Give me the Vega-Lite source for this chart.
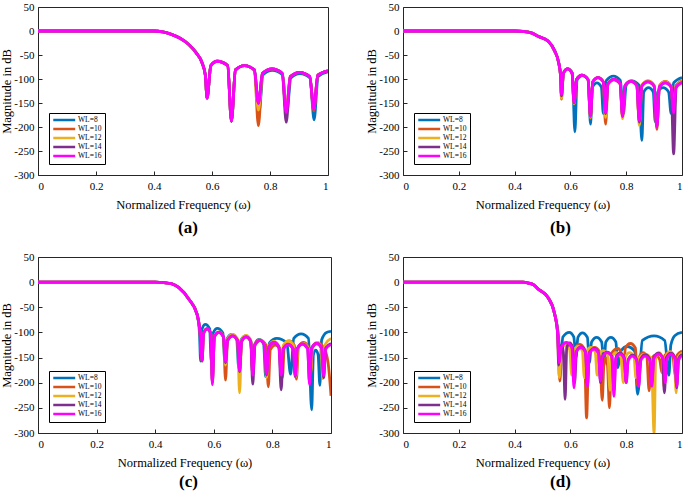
{
"$schema": "https://vega.github.io/schema/vega-lite/v6.json",
"padding": {"left": 0, "top": 0, "right": 0, "bottom": 0},
"columns": 2,
"spacing": {"row": 82, "column": 72},
"bounds": "flush",
"resolve": {"scale": {"color": "independent"}, "legend": {"color": "independent"}},
"datasets": {
"A": [
{"s":8,"x":0,"y":0},{"s":8,"x":0.1,"y":0},{"s":8,"x":0.2,"y":0},{"s":8,"x":0.3,"y":0},{"s":8,"x":0.4,"y":0},{"s":8,"x":0.43,"y":-2},{"s":8,"x":0.46,"y":-7},{"s":8,"x":0.49,"y":-15},{"s":8,"x":0.52,"y":-28},{"s":8,"x":0.545,"y":-45},{"s":8,"x":0.565,"y":-65},{"s":8,"x":0.577,"y":-92},
{"s":8,"x":0.583,"y":-140},{"s":8,"x":0.596,"y":-72},{"s":8,"x":0.618,"y":-63},{"s":8,"x":0.654,"y":-72},{"s":8,"x":0.667,"y":-188},{"s":8,"x":0.681,"y":-81},{"s":8,"x":0.712,"y":-72},{"s":8,"x":0.746,"y":-81},{"s":8,"x":0.762,"y":-170},{"s":8,"x":0.776,"y":-91},{"s":8,"x":0.808,"y":-82},{"s":8,"x":0.843,"y":-91},{"s":8,"x":0.858,"y":-168},{"s":8,"x":0.872,"y":-98},{"s":8,"x":0.903,"y":-89},{"s":8,"x":0.938,"y":-98},{"s":8,"x":0.952,"y":-185},{"s":8,"x":0.966,"y":-95},{"s":8,"x":1,"y":-85},
{"s":10,"x":0,"y":0},{"s":10,"x":0.1,"y":0},{"s":10,"x":0.2,"y":0},{"s":10,"x":0.3,"y":0},{"s":10,"x":0.4,"y":0},{"s":10,"x":0.43,"y":-2},{"s":10,"x":0.46,"y":-7},{"s":10,"x":0.49,"y":-15},{"s":10,"x":0.52,"y":-28},{"s":10,"x":0.545,"y":-45},{"s":10,"x":0.565,"y":-65},{"s":10,"x":0.577,"y":-92},
{"s":10,"x":0.583,"y":-140},{"s":10,"x":0.596,"y":-72},{"s":10,"x":0.618,"y":-63},{"s":10,"x":0.654,"y":-72},{"s":10,"x":0.667,"y":-188},{"s":10,"x":0.681,"y":-81},{"s":10,"x":0.712,"y":-72},{"s":10,"x":0.746,"y":-81},{"s":10,"x":0.76,"y":-197},{"s":10,"x":0.774,"y":-88},{"s":10,"x":0.807,"y":-79},{"s":10,"x":0.842,"y":-88},{"s":10,"x":0.856,"y":-168},{"s":10,"x":0.87,"y":-95},{"s":10,"x":0.902,"y":-86},{"s":10,"x":0.937,"y":-95},{"s":10,"x":0.951,"y":-166},{"s":10,"x":0.965,"y":-92},{"s":10,"x":1,"y":-83},
{"s":12,"x":0,"y":0},{"s":12,"x":0.1,"y":0},{"s":12,"x":0.2,"y":0},{"s":12,"x":0.3,"y":0},{"s":12,"x":0.4,"y":0},{"s":12,"x":0.43,"y":-2},{"s":12,"x":0.46,"y":-7},{"s":12,"x":0.49,"y":-15},{"s":12,"x":0.52,"y":-28},{"s":12,"x":0.545,"y":-45},{"s":12,"x":0.565,"y":-65},{"s":12,"x":0.577,"y":-92},
{"s":12,"x":0.583,"y":-140},{"s":12,"x":0.596,"y":-72},{"s":12,"x":0.618,"y":-63},{"s":12,"x":0.654,"y":-72},{"s":12,"x":0.667,"y":-188},{"s":12,"x":0.681,"y":-81},{"s":12,"x":0.712,"y":-72},{"s":12,"x":0.746,"y":-81},{"s":12,"x":0.76,"y":-165},{"s":12,"x":0.774,"y":-88},{"s":12,"x":0.807,"y":-79},{"s":12,"x":0.842,"y":-88},{"s":12,"x":0.856,"y":-168},{"s":12,"x":0.87,"y":-95},{"s":12,"x":0.902,"y":-86},{"s":12,"x":0.937,"y":-95},{"s":12,"x":0.951,"y":-160},{"s":12,"x":0.965,"y":-92},{"s":12,"x":1,"y":-83},
{"s":14,"x":0,"y":0},{"s":14,"x":0.1,"y":0},{"s":14,"x":0.2,"y":0},{"s":14,"x":0.3,"y":0},{"s":14,"x":0.4,"y":0},{"s":14,"x":0.43,"y":-2},{"s":14,"x":0.46,"y":-7},{"s":14,"x":0.49,"y":-15},{"s":14,"x":0.52,"y":-28},{"s":14,"x":0.545,"y":-45},{"s":14,"x":0.565,"y":-65},{"s":14,"x":0.577,"y":-92},
{"s":14,"x":0.583,"y":-140},{"s":14,"x":0.596,"y":-72},{"s":14,"x":0.618,"y":-63},{"s":14,"x":0.654,"y":-72},{"s":14,"x":0.667,"y":-188},{"s":14,"x":0.681,"y":-81},{"s":14,"x":0.712,"y":-72},{"s":14,"x":0.746,"y":-81},{"s":14,"x":0.76,"y":-150},{"s":14,"x":0.774,"y":-88},{"s":14,"x":0.807,"y":-79},{"s":14,"x":0.842,"y":-88},{"s":14,"x":0.856,"y":-190},{"s":14,"x":0.87,"y":-95},{"s":14,"x":0.902,"y":-86},{"s":14,"x":0.937,"y":-95},{"s":14,"x":0.951,"y":-160},{"s":14,"x":0.965,"y":-92},{"s":14,"x":1,"y":-83},
{"s":16,"x":0,"y":0},{"s":16,"x":0.1,"y":0},{"s":16,"x":0.2,"y":0},{"s":16,"x":0.3,"y":0},{"s":16,"x":0.4,"y":0},{"s":16,"x":0.43,"y":-2},{"s":16,"x":0.46,"y":-7},{"s":16,"x":0.49,"y":-15},{"s":16,"x":0.52,"y":-28},{"s":16,"x":0.545,"y":-45},{"s":16,"x":0.565,"y":-65},{"s":16,"x":0.577,"y":-92},
{"s":16,"x":0.583,"y":-140},{"s":16,"x":0.596,"y":-72},{"s":16,"x":0.618,"y":-63},{"s":16,"x":0.654,"y":-72},{"s":16,"x":0.667,"y":-188},{"s":16,"x":0.681,"y":-81},{"s":16,"x":0.712,"y":-72},{"s":16,"x":0.746,"y":-81},{"s":16,"x":0.76,"y":-151},{"s":16,"x":0.774,"y":-88},{"s":16,"x":0.807,"y":-79},{"s":16,"x":0.842,"y":-88},{"s":16,"x":0.856,"y":-170},{"s":16,"x":0.87,"y":-95},{"s":16,"x":0.902,"y":-86},{"s":16,"x":0.937,"y":-95},{"s":16,"x":0.951,"y":-163},{"s":16,"x":0.965,"y":-92},{"s":16,"x":1,"y":-83}
],
"B": [
{"s":8,"x":0,"y":0},{"s":8,"x":0.1,"y":0},{"s":8,"x":0.2,"y":0},{"s":8,"x":0.3,"y":0},{"s":8,"x":0.4,"y":0},{"s":8,"x":0.43,"y":-1},{"s":8,"x":0.46,"y":-4},{"s":8,"x":0.484,"y":-11},{"s":8,"x":0.52,"y":-21},{"s":8,"x":0.544,"y":-42},{"s":8,"x":0.558,"y":-66},{"s":8,"x":0.565,"y":-94},
{"s":8,"x":0.568,"y":-135},{"s":8,"x":0.575,"y":-88},{"s":8,"x":0.59,"y":-79},{"s":8,"x":0.607,"y":-88},{"s":8,"x":0.616,"y":-210},{"s":8,"x":0.624,"y":-102},{"s":8,"x":0.643,"y":-93},{"s":8,"x":0.664,"y":-102},{"s":8,"x":0.672,"y":-194},{"s":8,"x":0.679,"y":-117},{"s":8,"x":0.695,"y":-108},{"s":8,"x":0.711,"y":-117},{"s":8,"x":0.718,"y":-172},{"s":8,"x":0.729,"y":-103},{"s":8,"x":0.754,"y":-94},{"s":8,"x":0.779,"y":-103},{"s":8,"x":0.79,"y":-172},{"s":8,"x":0.8,"y":-113},{"s":8,"x":0.82,"y":-104},{"s":8,"x":0.846,"y":-113},{"s":8,"x":0.856,"y":-228},{"s":8,"x":0.863,"y":-127},{"s":8,"x":0.88,"y":-118},{"s":8,"x":0.897,"y":-127},{"s":8,"x":0.904,"y":-189},{"s":8,"x":0.913,"y":-127},{"s":8,"x":0.932,"y":-118},{"s":8,"x":0.952,"y":-127},{"s":8,"x":0.961,"y":-172},{"s":8,"x":0.97,"y":-108},{"s":8,"x":1,"y":-97},
{"s":10,"x":0,"y":0},{"s":10,"x":0.1,"y":0},{"s":10,"x":0.2,"y":0},{"s":10,"x":0.3,"y":0},{"s":10,"x":0.4,"y":0},{"s":10,"x":0.43,"y":-1},{"s":10,"x":0.46,"y":-4},{"s":10,"x":0.484,"y":-11},{"s":10,"x":0.52,"y":-21},{"s":10,"x":0.544,"y":-42},{"s":10,"x":0.558,"y":-66},{"s":10,"x":0.565,"y":-94},
{"s":10,"x":0.568,"y":-142},{"s":10,"x":0.575,"y":-88},{"s":10,"x":0.59,"y":-79},{"s":10,"x":0.606,"y":-88},{"s":10,"x":0.613,"y":-150},{"s":10,"x":0.622,"y":-101},{"s":10,"x":0.641,"y":-92},{"s":10,"x":0.663,"y":-101},{"s":10,"x":0.672,"y":-182},{"s":10,"x":0.68,"y":-106},{"s":10,"x":0.699,"y":-97},{"s":10,"x":0.718,"y":-106},{"s":10,"x":0.726,"y":-194},{"s":10,"x":0.735,"y":-110},{"s":10,"x":0.756,"y":-101},{"s":10,"x":0.778,"y":-110},{"s":10,"x":0.787,"y":-178},{"s":10,"x":0.796,"y":-113},{"s":10,"x":0.817,"y":-104},{"s":10,"x":0.838,"y":-113},{"s":10,"x":0.847,"y":-188},{"s":10,"x":0.856,"y":-113},{"s":10,"x":0.878,"y":-104},{"s":10,"x":0.9,"y":-113},{"s":10,"x":0.91,"y":-205},{"s":10,"x":0.919,"y":-114},{"s":10,"x":0.94,"y":-105},{"s":10,"x":0.961,"y":-114},{"s":10,"x":0.97,"y":-172},{"s":10,"x":0.979,"y":-113},{"s":10,"x":1,"y":-103},
{"s":12,"x":0,"y":0},{"s":12,"x":0.1,"y":0},{"s":12,"x":0.2,"y":0},{"s":12,"x":0.3,"y":0},{"s":12,"x":0.4,"y":0},{"s":12,"x":0.43,"y":-1},{"s":12,"x":0.46,"y":-4},{"s":12,"x":0.484,"y":-11},{"s":12,"x":0.52,"y":-21},{"s":12,"x":0.544,"y":-42},{"s":12,"x":0.558,"y":-66},{"s":12,"x":0.565,"y":-94},
{"s":12,"x":0.568,"y":-140},{"s":12,"x":0.575,"y":-88},{"s":12,"x":0.59,"y":-79},{"s":12,"x":0.606,"y":-88},{"s":12,"x":0.613,"y":-152},{"s":12,"x":0.622,"y":-101},{"s":12,"x":0.641,"y":-92},{"s":12,"x":0.663,"y":-101},{"s":12,"x":0.672,"y":-180},{"s":12,"x":0.68,"y":-106},{"s":12,"x":0.699,"y":-97},{"s":12,"x":0.718,"y":-106},{"s":12,"x":0.726,"y":-180},{"s":12,"x":0.735,"y":-110},{"s":12,"x":0.756,"y":-101},{"s":12,"x":0.778,"y":-110},{"s":12,"x":0.787,"y":-183},{"s":12,"x":0.796,"y":-114},{"s":12,"x":0.817,"y":-105},{"s":12,"x":0.838,"y":-114},{"s":12,"x":0.847,"y":-197},{"s":12,"x":0.856,"y":-114},{"s":12,"x":0.878,"y":-105},{"s":12,"x":0.9,"y":-114},{"s":12,"x":0.91,"y":-200},{"s":12,"x":0.919,"y":-115},{"s":12,"x":0.94,"y":-106},{"s":12,"x":0.961,"y":-115},{"s":12,"x":0.97,"y":-175},{"s":12,"x":0.979,"y":-115},{"s":12,"x":1,"y":-105},
{"s":14,"x":0,"y":0},{"s":14,"x":0.1,"y":0},{"s":14,"x":0.2,"y":0},{"s":14,"x":0.3,"y":0},{"s":14,"x":0.4,"y":0},{"s":14,"x":0.43,"y":-1},{"s":14,"x":0.46,"y":-4},{"s":14,"x":0.484,"y":-11},{"s":14,"x":0.52,"y":-21},{"s":14,"x":0.544,"y":-42},{"s":14,"x":0.558,"y":-66},{"s":14,"x":0.565,"y":-94},
{"s":14,"x":0.568,"y":-135},{"s":14,"x":0.575,"y":-88},{"s":14,"x":0.59,"y":-79},{"s":14,"x":0.606,"y":-88},{"s":14,"x":0.613,"y":-150},{"s":14,"x":0.622,"y":-101},{"s":14,"x":0.641,"y":-92},{"s":14,"x":0.663,"y":-101},{"s":14,"x":0.672,"y":-178},{"s":14,"x":0.68,"y":-106},{"s":14,"x":0.699,"y":-97},{"s":14,"x":0.718,"y":-106},{"s":14,"x":0.726,"y":-172},{"s":14,"x":0.735,"y":-110},{"s":14,"x":0.756,"y":-101},{"s":14,"x":0.778,"y":-110},{"s":14,"x":0.787,"y":-178},{"s":14,"x":0.796,"y":-114},{"s":14,"x":0.817,"y":-105},{"s":14,"x":0.838,"y":-114},{"s":14,"x":0.847,"y":-190},{"s":14,"x":0.856,"y":-115},{"s":14,"x":0.878,"y":-106},{"s":14,"x":0.9,"y":-115},{"s":14,"x":0.91,"y":-200},{"s":14,"x":0.919,"y":-117},{"s":14,"x":0.94,"y":-108},{"s":14,"x":0.961,"y":-117},{"s":14,"x":0.97,"y":-256},{"s":14,"x":0.979,"y":-117},{"s":14,"x":1,"y":-107},
{"s":16,"x":0,"y":0},{"s":16,"x":0.1,"y":0},{"s":16,"x":0.2,"y":0},{"s":16,"x":0.3,"y":0},{"s":16,"x":0.4,"y":0},{"s":16,"x":0.43,"y":-1},{"s":16,"x":0.46,"y":-4},{"s":16,"x":0.484,"y":-11},{"s":16,"x":0.52,"y":-21},{"s":16,"x":0.544,"y":-42},{"s":16,"x":0.558,"y":-66},{"s":16,"x":0.565,"y":-94},
{"s":16,"x":0.568,"y":-132},{"s":16,"x":0.575,"y":-88},{"s":16,"x":0.59,"y":-79},{"s":16,"x":0.606,"y":-88},{"s":16,"x":0.613,"y":-149},{"s":16,"x":0.622,"y":-101},{"s":16,"x":0.641,"y":-92},{"s":16,"x":0.663,"y":-101},{"s":16,"x":0.672,"y":-177},{"s":16,"x":0.68,"y":-106},{"s":16,"x":0.699,"y":-97},{"s":16,"x":0.718,"y":-106},{"s":16,"x":0.726,"y":-170},{"s":16,"x":0.735,"y":-110},{"s":16,"x":0.756,"y":-101},{"s":16,"x":0.778,"y":-110},{"s":16,"x":0.787,"y":-177},{"s":16,"x":0.796,"y":-114},{"s":16,"x":0.817,"y":-105},{"s":16,"x":0.838,"y":-114},{"s":16,"x":0.847,"y":-187},{"s":16,"x":0.856,"y":-115},{"s":16,"x":0.878,"y":-106},{"s":16,"x":0.9,"y":-115},{"s":16,"x":0.91,"y":-200},{"s":16,"x":0.919,"y":-117},{"s":16,"x":0.94,"y":-108},{"s":16,"x":0.961,"y":-117},{"s":16,"x":0.97,"y":-170},{"s":16,"x":0.979,"y":-117},{"s":16,"x":1,"y":-108}
],
"C": [
{"s":8,"x":0,"y":0},{"s":8,"x":0.1,"y":0},{"s":8,"x":0.2,"y":0},{"s":8,"x":0.3,"y":0},{"s":8,"x":0.4,"y":0},{"s":8,"x":0.43,"y":-1},{"s":8,"x":0.455,"y":-3},{"s":8,"x":0.481,"y":-11},{"s":8,"x":0.515,"y":-34},{"s":8,"x":0.543,"y":-64},{"s":8,"x":0.551,"y":-100},
{"s":8,"x":0.555,"y":-157},{"s":8,"x":0.56,"y":-93},{"s":8,"x":0.571,"y":-84},{"s":8,"x":0.586,"y":-93},{"s":8,"x":0.591,"y":-157},{"s":8,"x":0.598,"y":-101},{"s":8,"x":0.612,"y":-92},{"s":8,"x":0.631,"y":-101},{"s":8,"x":0.638,"y":-160},{"s":8,"x":0.645,"y":-113},{"s":8,"x":0.661,"y":-104},{"s":8,"x":0.678,"y":-113},{"s":8,"x":0.685,"y":-170},{"s":8,"x":0.692,"y":-116},{"s":8,"x":0.709,"y":-107},{"s":8,"x":0.726,"y":-116},{"s":8,"x":0.733,"y":-175},{"s":8,"x":0.74,"y":-123},{"s":8,"x":0.755,"y":-114},{"s":8,"x":0.77,"y":-123},{"s":8,"x":0.777,"y":-188},{"s":8,"x":0.79,"y":-121},{"s":8,"x":0.815,"y":-112},{"s":8,"x":0.849,"y":-121},{"s":8,"x":0.862,"y":-183},{"s":8,"x":0.873,"y":-112},{"s":8,"x":0.898,"y":-103},{"s":8,"x":0.923,"y":-112},{"s":8,"x":0.934,"y":-254},{"s":8,"x":0.94,"y":-144},{"s":8,"x":0.948,"y":-135},{"s":8,"x":0.956,"y":-144},{"s":8,"x":0.962,"y":-205},{"s":8,"x":0.968,"y":-115},{"s":8,"x":0.985,"y":-100},{"s":8,"x":1,"y":-98},
{"s":10,"x":0,"y":0},{"s":10,"x":0.1,"y":0},{"s":10,"x":0.2,"y":0},{"s":10,"x":0.3,"y":0},{"s":10,"x":0.4,"y":0},{"s":10,"x":0.43,"y":-1},{"s":10,"x":0.455,"y":-3},{"s":10,"x":0.481,"y":-11},{"s":10,"x":0.515,"y":-34},{"s":10,"x":0.543,"y":-64},{"s":10,"x":0.553,"y":-100},
{"s":10,"x":0.56,"y":-157},{"s":10,"x":0.565,"y":-102},{"s":10,"x":0.577,"y":-93},{"s":10,"x":0.59,"y":-102},{"s":10,"x":0.595,"y":-200},{"s":10,"x":0.602,"y":-109},{"s":10,"x":0.617,"y":-100},{"s":10,"x":0.633,"y":-109},{"s":10,"x":0.64,"y":-195},{"s":10,"x":0.647,"y":-116},{"s":10,"x":0.664,"y":-107},{"s":10,"x":0.681,"y":-116},{"s":10,"x":0.688,"y":-178},{"s":10,"x":0.695,"y":-118},{"s":10,"x":0.71,"y":-109},{"s":10,"x":0.726,"y":-118},{"s":10,"x":0.733,"y":-185},{"s":10,"x":0.741,"y":-125},{"s":10,"x":0.76,"y":-116},{"s":10,"x":0.778,"y":-125},{"s":10,"x":0.786,"y":-208},{"s":10,"x":0.793,"y":-134},{"s":10,"x":0.81,"y":-125},{"s":10,"x":0.827,"y":-134},{"s":10,"x":0.834,"y":-190},{"s":10,"x":0.841,"y":-126},{"s":10,"x":0.857,"y":-117},{"s":10,"x":0.875,"y":-126},{"s":10,"x":0.882,"y":-193},{"s":10,"x":0.889,"y":-129},{"s":10,"x":0.906,"y":-120},{"s":10,"x":0.923,"y":-129},{"s":10,"x":0.93,"y":-185},{"s":10,"x":0.937,"y":-130},{"s":10,"x":0.955,"y":-121},{"s":10,"x":0.975,"y":-130},{"s":10,"x":0.99,"y":-160},{"s":10,"x":1,"y":-226},
{"s":12,"x":0,"y":0},{"s":12,"x":0.1,"y":0},{"s":12,"x":0.2,"y":0},{"s":12,"x":0.3,"y":0},{"s":12,"x":0.4,"y":0},{"s":12,"x":0.43,"y":-1},{"s":12,"x":0.455,"y":-3},{"s":12,"x":0.481,"y":-11},{"s":12,"x":0.515,"y":-34},{"s":12,"x":0.543,"y":-64},{"s":12,"x":0.553,"y":-100},
{"s":12,"x":0.56,"y":-157},{"s":12,"x":0.565,"y":-102},{"s":12,"x":0.577,"y":-93},{"s":12,"x":0.59,"y":-102},{"s":12,"x":0.595,"y":-190},{"s":12,"x":0.602,"y":-108},{"s":12,"x":0.617,"y":-99},{"s":12,"x":0.633,"y":-108},{"s":12,"x":0.64,"y":-165},{"s":12,"x":0.647,"y":-113},{"s":12,"x":0.664,"y":-104},{"s":12,"x":0.681,"y":-113},{"s":12,"x":0.688,"y":-220},{"s":12,"x":0.695,"y":-115},{"s":12,"x":0.71,"y":-106},{"s":12,"x":0.726,"y":-115},{"s":12,"x":0.733,"y":-180},{"s":12,"x":0.74,"y":-124},{"s":12,"x":0.757,"y":-115},{"s":12,"x":0.773,"y":-124},{"s":12,"x":0.78,"y":-190},{"s":12,"x":0.788,"y":-127},{"s":12,"x":0.805,"y":-118},{"s":12,"x":0.822,"y":-127},{"s":12,"x":0.83,"y":-180},{"s":12,"x":0.837,"y":-126},{"s":12,"x":0.855,"y":-117},{"s":12,"x":0.872,"y":-126},{"s":12,"x":0.88,"y":-188},{"s":12,"x":0.887,"y":-131},{"s":12,"x":0.905,"y":-122},{"s":12,"x":0.922,"y":-131},{"s":12,"x":0.93,"y":-180},{"s":12,"x":0.937,"y":-129},{"s":12,"x":0.952,"y":-120},{"s":12,"x":0.966,"y":-129},{"s":12,"x":0.972,"y":-192},{"s":12,"x":0.98,"y":-124},{"s":12,"x":1,"y":-112},
{"s":14,"x":0,"y":0},{"s":14,"x":0.1,"y":0},{"s":14,"x":0.2,"y":0},{"s":14,"x":0.3,"y":0},{"s":14,"x":0.4,"y":0},{"s":14,"x":0.43,"y":-1},{"s":14,"x":0.455,"y":-3},{"s":14,"x":0.481,"y":-11},{"s":14,"x":0.515,"y":-34},{"s":14,"x":0.543,"y":-64},{"s":14,"x":0.553,"y":-100},
{"s":14,"x":0.56,"y":-157},{"s":14,"x":0.565,"y":-102},{"s":14,"x":0.577,"y":-93},{"s":14,"x":0.59,"y":-102},{"s":14,"x":0.595,"y":-200},{"s":14,"x":0.602,"y":-109},{"s":14,"x":0.617,"y":-100},{"s":14,"x":0.633,"y":-109},{"s":14,"x":0.64,"y":-160},{"s":14,"x":0.647,"y":-116},{"s":14,"x":0.664,"y":-107},{"s":14,"x":0.681,"y":-116},{"s":14,"x":0.688,"y":-178},{"s":14,"x":0.695,"y":-118},{"s":14,"x":0.71,"y":-109},{"s":14,"x":0.726,"y":-118},{"s":14,"x":0.733,"y":-203},{"s":14,"x":0.74,"y":-125},{"s":14,"x":0.757,"y":-116},{"s":14,"x":0.773,"y":-125},{"s":14,"x":0.78,"y":-185},{"s":14,"x":0.788,"y":-129},{"s":14,"x":0.805,"y":-120},{"s":14,"x":0.822,"y":-129},{"s":14,"x":0.83,"y":-214},{"s":14,"x":0.837,"y":-133},{"s":14,"x":0.854,"y":-124},{"s":14,"x":0.871,"y":-133},{"s":14,"x":0.878,"y":-188},{"s":14,"x":0.885,"y":-132},{"s":14,"x":0.902,"y":-123},{"s":14,"x":0.92,"y":-132},{"s":14,"x":0.927,"y":-200},{"s":14,"x":0.934,"y":-131},{"s":14,"x":0.951,"y":-122},{"s":14,"x":0.968,"y":-131},{"s":14,"x":0.975,"y":-190},{"s":14,"x":0.982,"y":-131},{"s":14,"x":1,"y":-122},
{"s":16,"x":0,"y":0},{"s":16,"x":0.1,"y":0},{"s":16,"x":0.2,"y":0},{"s":16,"x":0.3,"y":0},{"s":16,"x":0.4,"y":0},{"s":16,"x":0.43,"y":-1},{"s":16,"x":0.455,"y":-3},{"s":16,"x":0.481,"y":-11},{"s":16,"x":0.515,"y":-34},{"s":16,"x":0.543,"y":-64},{"s":16,"x":0.553,"y":-100},
{"s":16,"x":0.56,"y":-156},{"s":16,"x":0.565,"y":-102},{"s":16,"x":0.577,"y":-93},{"s":16,"x":0.59,"y":-102},{"s":16,"x":0.595,"y":-204},{"s":16,"x":0.602,"y":-109},{"s":16,"x":0.617,"y":-100},{"s":16,"x":0.633,"y":-109},{"s":16,"x":0.64,"y":-158},{"s":16,"x":0.647,"y":-116},{"s":16,"x":0.664,"y":-107},{"s":16,"x":0.681,"y":-116},{"s":16,"x":0.688,"y":-176},{"s":16,"x":0.695,"y":-118},{"s":16,"x":0.71,"y":-109},{"s":16,"x":0.726,"y":-118},{"s":16,"x":0.733,"y":-185},{"s":16,"x":0.74,"y":-125},{"s":16,"x":0.757,"y":-116},{"s":16,"x":0.773,"y":-125},{"s":16,"x":0.78,"y":-183},{"s":16,"x":0.788,"y":-129},{"s":16,"x":0.805,"y":-120},{"s":16,"x":0.822,"y":-129},{"s":16,"x":0.83,"y":-185},{"s":16,"x":0.837,"y":-133},{"s":16,"x":0.854,"y":-124},{"s":16,"x":0.871,"y":-133},{"s":16,"x":0.878,"y":-186},{"s":16,"x":0.885,"y":-132},{"s":16,"x":0.902,"y":-123},{"s":16,"x":0.92,"y":-132},{"s":16,"x":0.927,"y":-204},{"s":16,"x":0.934,"y":-131},{"s":16,"x":0.951,"y":-122},{"s":16,"x":0.968,"y":-131},{"s":16,"x":0.975,"y":-186},{"s":16,"x":0.982,"y":-133},{"s":16,"x":1,"y":-124}
],
"D": [
{"s":8,"x":0,"y":0},{"s":8,"x":0.1,"y":0},{"s":8,"x":0.2,"y":0},{"s":8,"x":0.3,"y":0},{"s":8,"x":0.4,"y":0},{"s":8,"x":0.43,"y":0},{"s":8,"x":0.45,"y":-2},{"s":8,"x":0.47,"y":-6},{"s":8,"x":0.483,"y":-13},{"s":8,"x":0.519,"y":-30},{"s":8,"x":0.542,"y":-60},{"s":8,"x":0.556,"y":-100},
{"s":8,"x":0.565,"y":-155},{"s":8,"x":0.573,"y":-109},{"s":8,"x":0.596,"y":-100},{"s":8,"x":0.612,"y":-109},{"s":8,"x":0.62,"y":-150},{"s":8,"x":0.627,"y":-110},{"s":8,"x":0.643,"y":-101},{"s":8,"x":0.661,"y":-110},{"s":8,"x":0.668,"y":-160},{"s":8,"x":0.676,"y":-119},{"s":8,"x":0.694,"y":-110},{"s":8,"x":0.712,"y":-119},{"s":8,"x":0.72,"y":-165},{"s":8,"x":0.727,"y":-119},{"s":8,"x":0.745,"y":-110},{"s":8,"x":0.763,"y":-119},{"s":8,"x":0.77,"y":-170},{"s":8,"x":0.781,"y":-137},{"s":8,"x":0.803,"y":-128},{"s":8,"x":0.83,"y":-137},{"s":8,"x":0.841,"y":-223},{"s":8,"x":0.858,"y":-116},{"s":8,"x":0.9,"y":-107},{"s":8,"x":0.938,"y":-116},{"s":8,"x":0.953,"y":-185},{"s":8,"x":0.96,"y":-125},{"s":8,"x":0.975,"y":-106},{"s":8,"x":1,"y":-100},
{"s":10,"x":0,"y":0},{"s":10,"x":0.1,"y":0},{"s":10,"x":0.2,"y":0},{"s":10,"x":0.3,"y":0},{"s":10,"x":0.4,"y":0},{"s":10,"x":0.43,"y":0},{"s":10,"x":0.45,"y":-2},{"s":10,"x":0.47,"y":-6},{"s":10,"x":0.483,"y":-13},{"s":10,"x":0.519,"y":-30},{"s":10,"x":0.542,"y":-60},{"s":10,"x":0.554,"y":-100},
{"s":10,"x":0.562,"y":-197},{"s":10,"x":0.57,"y":-131},{"s":10,"x":0.585,"y":-122},{"s":10,"x":0.6,"y":-131},{"s":10,"x":0.61,"y":-175},{"s":10,"x":0.617,"y":-133},{"s":10,"x":0.633,"y":-124},{"s":10,"x":0.65,"y":-133},{"s":10,"x":0.658,"y":-270},{"s":10,"x":0.666,"y":-139},{"s":10,"x":0.686,"y":-130},{"s":10,"x":0.705,"y":-139},{"s":10,"x":0.714,"y":-235},{"s":10,"x":0.72,"y":-165},{"s":10,"x":0.727,"y":-150},{"s":10,"x":0.733,"y":-165},{"s":10,"x":0.74,"y":-250},{"s":10,"x":0.748,"y":-141},{"s":10,"x":0.77,"y":-132},{"s":10,"x":0.782,"y":-141},{"s":10,"x":0.79,"y":-190},{"s":10,"x":0.797,"y":-131},{"s":10,"x":0.815,"y":-122},{"s":10,"x":0.833,"y":-131},{"s":10,"x":0.84,"y":-205},{"s":10,"x":0.847,"y":-149},{"s":10,"x":0.86,"y":-140},{"s":10,"x":0.874,"y":-149},{"s":10,"x":0.882,"y":-216},{"s":10,"x":0.89,"y":-154},{"s":10,"x":0.905,"y":-145},{"s":10,"x":0.92,"y":-154},{"s":10,"x":0.928,"y":-180},{"s":10,"x":0.935,"y":-149},{"s":10,"x":0.952,"y":-140},{"s":10,"x":0.968,"y":-149},{"s":10,"x":0.975,"y":-185},{"s":10,"x":0.983,"y":-145},{"s":10,"x":1,"y":-137},
{"s":12,"x":0,"y":0},{"s":12,"x":0.1,"y":0},{"s":12,"x":0.2,"y":0},{"s":12,"x":0.3,"y":0},{"s":12,"x":0.4,"y":0},{"s":12,"x":0.43,"y":0},{"s":12,"x":0.45,"y":-2},{"s":12,"x":0.47,"y":-6},{"s":12,"x":0.483,"y":-13},{"s":12,"x":0.519,"y":-30},{"s":12,"x":0.542,"y":-60},{"s":12,"x":0.554,"y":-100},
{"s":12,"x":0.56,"y":-190},{"s":12,"x":0.567,"y":-134},{"s":12,"x":0.582,"y":-125},{"s":12,"x":0.597,"y":-134},{"s":12,"x":0.605,"y":-185},{"s":12,"x":0.612,"y":-137},{"s":12,"x":0.628,"y":-128},{"s":12,"x":0.643,"y":-137},{"s":12,"x":0.65,"y":-190},{"s":12,"x":0.657,"y":-139},{"s":12,"x":0.673,"y":-130},{"s":12,"x":0.689,"y":-139},{"s":12,"x":0.696,"y":-185},{"s":12,"x":0.703,"y":-145},{"s":12,"x":0.718,"y":-136},{"s":12,"x":0.734,"y":-145},{"s":12,"x":0.742,"y":-215},{"s":12,"x":0.749,"y":-149},{"s":12,"x":0.765,"y":-140},{"s":12,"x":0.781,"y":-149},{"s":12,"x":0.79,"y":-200},{"s":12,"x":0.797,"y":-149},{"s":12,"x":0.812,"y":-140},{"s":12,"x":0.828,"y":-149},{"s":12,"x":0.835,"y":-190},{"s":12,"x":0.845,"y":-152},{"s":12,"x":0.867,"y":-143},{"s":12,"x":0.89,"y":-152},{"s":12,"x":0.9,"y":-300},{"s":12,"x":0.906,"y":-149},{"s":12,"x":0.918,"y":-140},{"s":12,"x":0.929,"y":-149},{"s":12,"x":0.935,"y":-207},{"s":12,"x":0.942,"y":-147},{"s":12,"x":0.957,"y":-138},{"s":12,"x":0.972,"y":-147},{"s":12,"x":0.979,"y":-220},{"s":12,"x":0.986,"y":-150},{"s":12,"x":1,"y":-141},
{"s":14,"x":0,"y":0},{"s":14,"x":0.1,"y":0},{"s":14,"x":0.2,"y":0},{"s":14,"x":0.3,"y":0},{"s":14,"x":0.4,"y":0},{"s":14,"x":0.43,"y":0},{"s":14,"x":0.45,"y":-2},{"s":14,"x":0.47,"y":-6},{"s":14,"x":0.483,"y":-13},{"s":14,"x":0.519,"y":-30},{"s":14,"x":0.542,"y":-60},{"s":14,"x":0.554,"y":-100},
{"s":14,"x":0.558,"y":-165},{"s":14,"x":0.563,"y":-135},{"s":14,"x":0.569,"y":-125},{"s":14,"x":0.575,"y":-140},{"s":14,"x":0.581,"y":-233},{"s":14,"x":0.587,"y":-130},{"s":14,"x":0.598,"y":-121},{"s":14,"x":0.608,"y":-130},{"s":14,"x":0.615,"y":-200},{"s":14,"x":0.622,"y":-138},{"s":14,"x":0.638,"y":-129},{"s":14,"x":0.654,"y":-138},{"s":14,"x":0.661,"y":-205},{"s":14,"x":0.668,"y":-141},{"s":14,"x":0.685,"y":-132},{"s":14,"x":0.701,"y":-141},{"s":14,"x":0.708,"y":-200},{"s":14,"x":0.715,"y":-148},{"s":14,"x":0.732,"y":-139},{"s":14,"x":0.749,"y":-148},{"s":14,"x":0.756,"y":-215},{"s":14,"x":0.763,"y":-150},{"s":14,"x":0.778,"y":-141},{"s":14,"x":0.793,"y":-150},{"s":14,"x":0.8,"y":-200},{"s":14,"x":0.807,"y":-154},{"s":14,"x":0.822,"y":-145},{"s":14,"x":0.838,"y":-154},{"s":14,"x":0.845,"y":-195},{"s":14,"x":0.852,"y":-153},{"s":14,"x":0.868,"y":-144},{"s":14,"x":0.885,"y":-153},{"s":14,"x":0.892,"y":-200},{"s":14,"x":0.899,"y":-150},{"s":14,"x":0.915,"y":-141},{"s":14,"x":0.93,"y":-150},{"s":14,"x":0.937,"y":-220},{"s":14,"x":0.944,"y":-150},{"s":14,"x":0.96,"y":-141},{"s":14,"x":0.975,"y":-150},{"s":14,"x":0.981,"y":-210},{"s":14,"x":0.988,"y":-152},{"s":14,"x":1,"y":-144},
{"s":16,"x":0,"y":0},{"s":16,"x":0.1,"y":0},{"s":16,"x":0.2,"y":0},{"s":16,"x":0.3,"y":0},{"s":16,"x":0.4,"y":0},{"s":16,"x":0.43,"y":0},{"s":16,"x":0.45,"y":-2},{"s":16,"x":0.47,"y":-6},{"s":16,"x":0.483,"y":-13},{"s":16,"x":0.519,"y":-30},{"s":16,"x":0.542,"y":-60},{"s":16,"x":0.554,"y":-100},
{"s":16,"x":0.56,"y":-160},{"s":16,"x":0.568,"y":-129},{"s":16,"x":0.585,"y":-120},{"s":16,"x":0.605,"y":-129},{"s":16,"x":0.613,"y":-210},{"s":16,"x":0.62,"y":-139},{"s":16,"x":0.637,"y":-130},{"s":16,"x":0.654,"y":-139},{"s":16,"x":0.661,"y":-207},{"s":16,"x":0.668,"y":-142},{"s":16,"x":0.685,"y":-133},{"s":16,"x":0.701,"y":-142},{"s":16,"x":0.708,"y":-197},{"s":16,"x":0.715,"y":-149},{"s":16,"x":0.732,"y":-140},{"s":16,"x":0.749,"y":-149},{"s":16,"x":0.756,"y":-227},{"s":16,"x":0.763,"y":-152},{"s":16,"x":0.778,"y":-143},{"s":16,"x":0.793,"y":-152},{"s":16,"x":0.8,"y":-200},{"s":16,"x":0.807,"y":-156},{"s":16,"x":0.822,"y":-147},{"s":16,"x":0.838,"y":-156},{"s":16,"x":0.845,"y":-207},{"s":16,"x":0.852,"y":-156},{"s":16,"x":0.868,"y":-147},{"s":16,"x":0.885,"y":-156},{"s":16,"x":0.892,"y":-207},{"s":16,"x":0.899,"y":-152},{"s":16,"x":0.915,"y":-143},{"s":16,"x":0.933,"y":-152},{"s":16,"x":0.94,"y":-200},{"s":16,"x":0.946,"y":-152},{"s":16,"x":0.96,"y":-143},{"s":16,"x":0.975,"y":-152},{"s":16,"x":0.981,"y":-207},{"s":16,"x":0.988,"y":-155},{"s":16,"x":1,"y":-146}
]
},
"concat": [
{"data": {"name": "A"}, "width": 290, "height": 168,
 "title": {"text": "(a)", "orient": "bottom", "offset": 9, "dx": 5},
 "mark": {"type": "line", "interpolate": "monotone", "strokeWidth": 2.8, "clip": true},
 "encoding": {
  "x": {"field": "x", "type": "quantitative", "scale": {"domain": [0, 1], "nice": false}, "axis": {"values": [0, 0.2, 0.4, 0.6, 0.8, 1], "title": "Normalized Frequency (ω)"}},
  "y": {"field": "y", "type": "quantitative", "scale": {"domain": [-300, 50], "nice": false, "zero": false}, "axis": {"values": [-300, -250, -200, -150, -100, -50, 0, 50], "title": "Magnitude in dB"}},
  "color": {"field": "s", "type": "nominal", "scale": {"domain": [8, 10, 12, 14, 16], "range": ["#0072BD", "#D95319", "#EDB120", "#7E2F8E", "#FF00FF"]}, "legend": {"labelExpr": "'WL=' + datum.label"}}
 }},
{"data": {"name": "B"}, "width": 279, "height": 168,
 "title": {"text": "(b)", "orient": "bottom", "offset": 9, "dx": 18},
 "mark": {"type": "line", "interpolate": "monotone", "strokeWidth": 2.8, "clip": true},
 "encoding": {
  "x": {"field": "x", "type": "quantitative", "scale": {"domain": [0, 1], "nice": false}, "axis": {"values": [0, 0.2, 0.4, 0.6, 0.8, 1], "title": "Normalized Frequency (ω)"}},
  "y": {"field": "y", "type": "quantitative", "scale": {"domain": [-300, 50], "nice": false, "zero": false}, "axis": {"values": [-300, -250, -200, -150, -100, -50, 0, 50], "title": "Magnitude in dB"}},
  "color": {"field": "s", "type": "nominal", "scale": {"domain": [8, 10, 12, 14, 16], "range": ["#0072BD", "#D95319", "#EDB120", "#7E2F8E", "#FF00FF"]}, "legend": {"labelExpr": "'WL=' + datum.label"}}
 }},
{"data": {"name": "C"}, "width": 293, "height": 176,
 "title": {"text": "(c)", "orient": "bottom", "offset": 5, "dx": 4},
 "mark": {"type": "line", "interpolate": "monotone", "strokeWidth": 2.8, "clip": true},
 "encoding": {
  "x": {"field": "x", "type": "quantitative", "scale": {"domain": [0, 1], "nice": false}, "axis": {"values": [0, 0.2, 0.4, 0.6, 0.8, 1], "title": "Normalized Frequency (ω)"}},
  "y": {"field": "y", "type": "quantitative", "scale": {"domain": [-300, 50], "nice": false, "zero": false}, "axis": {"values": [-300, -250, -200, -150, -100, -50, 0, 50], "title": "Magnitude in dB"}},
  "color": {"field": "s", "type": "nominal", "scale": {"domain": [8, 10, 12, 14, 16], "range": ["#0072BD", "#D95319", "#EDB120", "#7E2F8E", "#FF00FF"]}, "legend": {"labelExpr": "'WL=' + datum.label"}}
 }},
{"data": {"name": "D"}, "width": 279, "height": 176,
 "title": {"text": "(d)", "orient": "bottom", "offset": 5, "dx": 18},
 "mark": {"type": "line", "interpolate": "monotone", "strokeWidth": 2.8, "clip": true},
 "encoding": {
  "x": {"field": "x", "type": "quantitative", "scale": {"domain": [0, 1], "nice": false}, "axis": {"values": [0, 0.2, 0.4, 0.6, 0.8, 1], "title": "Normalized Frequency (ω)"}},
  "y": {"field": "y", "type": "quantitative", "scale": {"domain": [-300, 50], "nice": false, "zero": false}, "axis": {"values": [-300, -250, -200, -150, -100, -50, 0, 50], "title": "Magnitude in dB"}},
  "color": {"field": "s", "type": "nominal", "scale": {"domain": [8, 10, 12, 14, 16], "range": ["#0072BD", "#D95319", "#EDB120", "#7E2F8E", "#FF00FF"]}, "legend": {"labelExpr": "'WL=' + datum.label"}}
 }}
],
"config": {
 "font": "Liberation Serif",
 "view": {"stroke": "#262626", "strokeWidth": 1},
 "axis": {"grid": false, "domain": false, "labelExpr": "'' + datum.value", "labelFont": "Liberation Serif", "labelFontSize": 11, "labelColor": "#000", "titleFont": "Liberation Serif", "titleFontSize": 12.5, "titleFontWeight": "normal", "titleColor": "#000", "tickColor": "#262626", "tickSize": -4},
 "axisX": {"labelPadding": 9.5, "titlePadding": 7},
 "axisY": {"labelPadding": 8, "titlePadding": 0},
 "legend": {"orient": "bottom-left", "offset": 11, "title": null, "symbolType": "M-1,0H7", "symbolSize": 30, "symbolStrokeWidth": 2.5, "labelFont": "Liberation Serif", "labelFontSize": 7.5, "labelColor": "#000", "labelOffset": 18, "rowPadding": -1.5, "padding": 3, "strokeColor": "#000", "fillColor": "#fff", "cornerRadius": 0},
 "title": {"font": "Liberation Serif", "fontSize": 17, "fontWeight": "bold", "color": "#000"}
}
}
